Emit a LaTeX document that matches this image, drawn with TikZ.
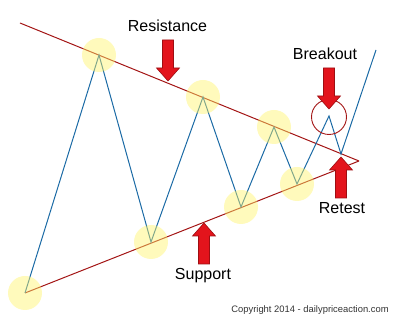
\documentclass[tikz,border=0pt]{standalone}
\usepackage{fontspec}
\setmainfont{Liberation Sans}
\usepackage{xcolor}
\definecolor{pricecol}{HTML}{1B6AA5}
\definecolor{trendcol}{HTML}{A31515}
\definecolor{arrowfill}{HTML}{E3141C}
\definecolor{arrowedge}{HTML}{9E0E12}
\definecolor{glow}{HTML}{FFF36A}

\begin{document}
\begin{tikzpicture}[x=1pt, y=-1pt,
    trendline/.style={draw=trendcol, line width=1pt},
    priceline/.style={draw=pricecol, line width=1pt, line join=miter},
    touchspot/.style={fill=glow, fill opacity=0.45, draw=none},
    label/.style={font=\fontsize{16}{18}\selectfont, inner sep=0pt},
    blockarrow/.style={fill=arrowfill, draw=arrowedge, line width=0.6pt, line join=miter}]
    \useasboundingbox (0,0) rectangle (400,320);

    % --- price points ---
    \coordinate (p0) at (25,293);
    \coordinate (p1) at (99,55);
    \coordinate (p2) at (151,242);
    \coordinate (p3) at (203,97);
    \coordinate (p4) at (241,207);
    \coordinate (p5) at (274,127);
    \coordinate (p6) at (297,184);
    \coordinate (p7) at (329,116);
    \coordinate (p8) at (341,154);
    \coordinate (p9) at (376,50);
    \coordinate (r0) at (20,23);
    \coordinate (apex) at (359,161);

    % --- trend lines ---
    \draw[trendline] (r0) -- (apex);
    \draw[trendline] (p0) -- (apex);

    % --- price path ---
    \draw[priceline] (p0) -- (p1) -- (p2) -- (p3) -- (p4) -- (p5) -- (p6) -- (p7) -- (p8) -- (p9);

    % --- touches ---
    \foreach \p in {p0,p1,p2,p3,p4,p5,p6} {
        \fill[touchspot] (\p) circle (17);
    }
    \draw[trendcol, line width=0.9pt] (329,117) circle (17.5);

    % --- arrows ---
    \foreach \ax/\ay/\s in {168/81/-1, 329/109/-1, 204/223/1, 341/157/1} {
        \draw[blockarrow] (\ax,\ay) -- (\ax+11.5,\ay+\s*13) -- (\ax+5.5,\ay+\s*13) -- (\ax+5.5,\ay+\s*41)
            -- (\ax-5.5,\ay+\s*41) -- (\ax-5.5,\ay+\s*13) -- (\ax-11.5,\ay+\s*13) -- cycle;
    }

    % --- labels ---
    \node[label] (resistance) at (167.5,26) {Resistance};
    \node[label] (breakout) at (325,54) {Breakout};
    \node[label] (support) at (203,276) {Support};
    \node[label] (retest) at (342,208) {Retest};
    \node[font=\fontsize{9.4}{11}\selectfont, inner sep=0pt, text=black!80] (copyright) at (310,310) {Copyright 2014 - dailypriceaction.com};
\end{tikzpicture}
\end{document}
